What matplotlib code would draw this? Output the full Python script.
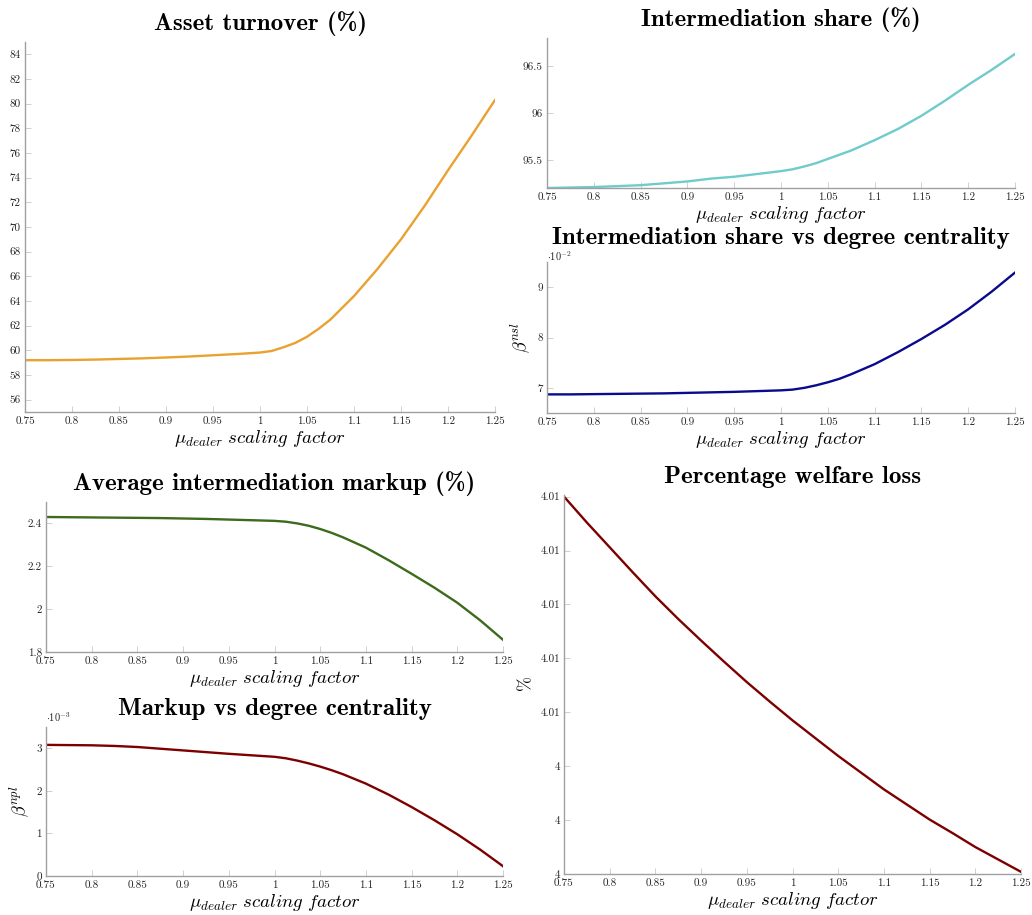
import matplotlib
matplotlib.use("Agg")
import matplotlib.pyplot as plt
from matplotlib.ticker import FuncFormatter, FixedLocator, FixedFormatter

plt.rcParams['mathtext.fontset'] = 'cm'
plt.rcParams['font.family'] = ['cmr10', 'DejaVu Serif']
plt.rcParams['axes.formatter.use_mathtext'] = True

# ---------------- data ----------------
mu_scale = [0.75, 0.775, 0.8, 0.825, 0.85, 0.875, 0.9, 0.925, 0.95, 0.975, 1.0, 1.0125,
            1.025, 1.0375, 1.05, 1.0625, 1.075, 1.1, 1.125, 1.15, 1.175, 1.2, 1.225, 1.25]

asset_turnover = [59.2, 59.2, 59.22, 59.25, 59.3, 59.35, 59.42, 59.5, 59.6, 59.7, 59.82, 59.95,
                  60.25, 60.6, 61.1, 61.75, 62.5, 64.4, 66.6, 69.0, 71.7, 74.6, 77.4, 80.3]

intermediation_share = [95.20, 95.205, 95.21, 95.22, 95.23, 95.25, 95.27, 95.30, 95.32, 95.35, 95.38, 95.40,
                        95.43, 95.465, 95.51, 95.555, 95.60, 95.71, 95.83, 95.97, 96.13, 96.30, 96.46, 96.63]

beta_nsl = [6.87, 6.87, 6.875, 6.88, 6.885, 6.89, 6.90, 6.91, 6.92, 6.935, 6.95, 6.965,
            7.00, 7.05, 7.11, 7.18, 7.27, 7.47, 7.71, 7.97, 8.25, 8.56, 8.91, 9.29]  # x 1e-2

avg_markup = [2.430, 2.429, 2.428, 2.427, 2.426, 2.425, 2.423, 2.421, 2.418, 2.415, 2.412, 2.408,
              2.400, 2.389, 2.374, 2.356, 2.335, 2.287, 2.228, 2.165, 2.100, 2.030, 1.948, 1.857]

beta_npl = [3.08, 3.075, 3.07, 3.055, 3.03, 2.99, 2.95, 2.91, 2.87, 2.835, 2.80, 2.765,
            2.71, 2.645, 2.57, 2.485, 2.39, 2.17, 1.91, 1.62, 1.31, 0.98, 0.62, 0.23]  # x 1e-3

welfare_loss = [4.00900, 4.00852, 4.00806, 4.00760, 4.00715, 4.00673, 4.00633, 4.00594, 4.00556,
                4.00520, 4.00485, 4.004685, 4.00452, 4.004355, 4.00419, 4.004035, 4.00388,
                4.00357, 4.00329, 4.00301, 4.00276, 4.00250, 4.00227, 4.00204]

x_ticks = [0.75, 0.8, 0.85, 0.9, 0.95, 1.0, 1.05, 1.1, 1.15, 1.2, 1.25]
welfare_ticks = [4.002, 4.003, 4.004, 4.005, 4.006, 4.007, 4.008, 4.009]
welfare_tick_labels = ['4', '4', '4', '4.01', '4.01', '4.01', '4.01', '4.01']

# ---------------- style ----------------
W, H = 1032, 915
fig = plt.figure(figsize=(W / 100, H / 100), dpi=100)

def box(x0, y0, x1, y1):
    return [x0 / W, 1 - y1 / H, (x1 - x0) / W, (y1 - y0) / H]

SPINE = '#a0a0a0'
TICKC = '#c8c8c8'
XLABEL = r'$\mu_{dealer}\ scaling\ factor$'
gfmt = FuncFormatter(lambda v, p: ('%g' % v))

def style(ax, title, ylim, yticks, ylabel=None, tpad=9):
    ax.set_xlim(0.75, 1.25)
    ax.set_ylim(*ylim)
    ax.set_xticks(x_ticks)
    ax.xaxis.set_major_formatter(gfmt)
    if yticks is not None:
        ax.set_yticks(yticks)
        ax.yaxis.set_major_formatter(gfmt)
    for s in ['top', 'right']:
        ax.spines[s].set_visible(False)
    for s in ['left', 'bottom']:
        ax.spines[s].set_color(SPINE)
        ax.spines[s].set_linewidth(1.0)
    ax.tick_params(direction='in', length=4, width=0.6, color=TICKC,
                   labelsize=8, labelcolor='#222222', pad=3)
    ax.set_title(title, fontsize=18, pad=tpad, family=['cmb10', 'DejaVu Serif'])
    ax.set_xlabel(XLABEL, fontsize=13.5, labelpad=2)
    if ylabel:
        ax.set_ylabel(ylabel, fontsize=13, labelpad=4)

LW = 1.7

# Panel 1
ax1 = fig.add_axes(box(25, 42, 495, 412))
ax1.plot(mu_scale, asset_turnover, color='#E9A12F', lw=LW)
style(ax1, 'Asset turnover (%)', (55, 85), list(range(56, 85, 2)))

# Panel 2
ax2 = fig.add_axes(box(547, 38, 1015, 188))
ax2.plot(mu_scale, intermediation_share, color='#6FCBCC', lw=LW)
style(ax2, 'Intermediation share (%)', (95.2, 96.8), [95.5, 96, 96.5])

# Panel 3
ax3 = fig.add_axes(box(547, 262, 1015, 413))
ax3.plot(mu_scale, beta_nsl, color='#0A0A8C', lw=LW)
style(ax3, 'Intermediation share vs degree centrality', (6.5, 9.5), [7, 8, 9],
      ylabel=r'$\beta^{nsl}$', tpad=13)
ax3.text(0.0, 0.995, r'$\cdot 10^{-2}$', transform=ax3.transAxes, fontsize=7.5,
         ha='left', va='bottom', color='#222222')

# Panel 4
ax4 = fig.add_axes(box(46, 502, 503, 652))
ax4.plot(mu_scale, avg_markup, color='#3C6B1C', lw=LW)
style(ax4, 'Average intermediation markup (%)', (1.8, 2.5), [1.8, 2, 2.2, 2.4])

# Panel 5
ax5 = fig.add_axes(box(46, 727, 503, 876))
ax5.plot(mu_scale, beta_npl, color='#7D0000', lw=LW)
style(ax5, 'Markup vs degree centrality', (0, 3.5), [0, 1, 2, 3],
      ylabel=r'$\beta^{npl}$')
ax5.text(0.0, 1.02, r'$\cdot 10^{-3}$', transform=ax5.transAxes, fontsize=7.5,
         ha='left', va='bottom', color='#222222')

# Panel 6
ax6 = fig.add_axes(box(564, 495, 1021, 874))
ax6.plot(mu_scale, welfare_loss, color='#7D0000', lw=LW)
style(ax6, 'Percentage welfare loss', (4.002, 4.00903), None, ylabel=r'$\%$')
ax6.yaxis.set_major_locator(FixedLocator(welfare_ticks))
ax6.yaxis.set_major_formatter(FixedFormatter(welfare_tick_labels))

fig.savefig('out.png', dpi=100)
